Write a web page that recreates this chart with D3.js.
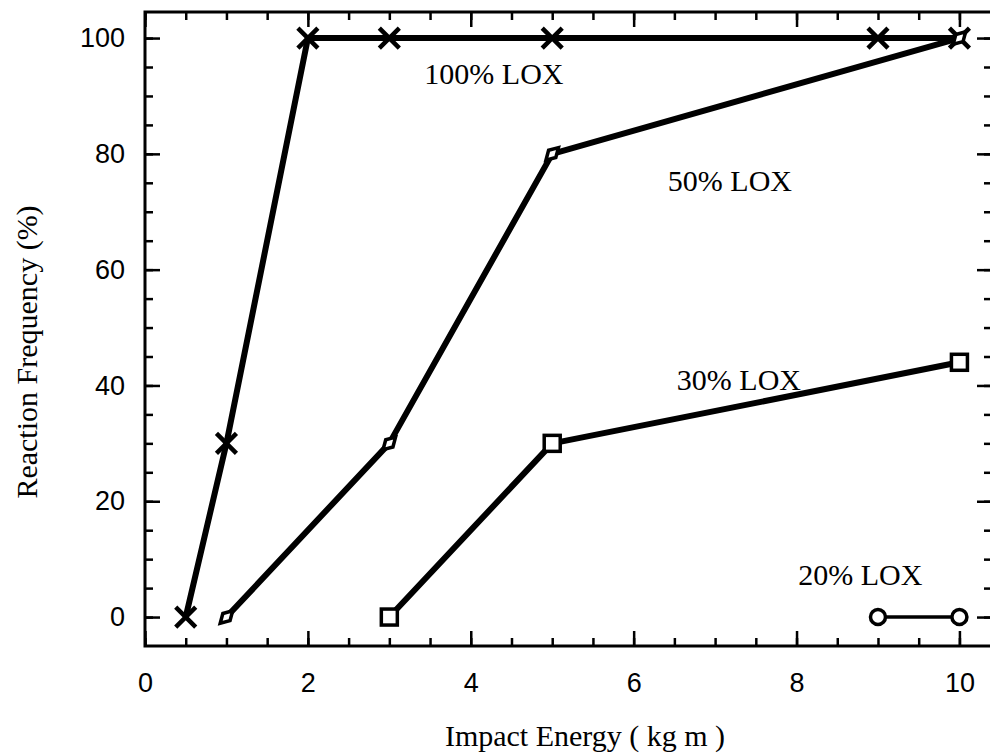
<!DOCTYPE html>
<html>
<head>
<meta charset="utf-8">
<title>Reaction Frequency vs Impact Energy</title>
<script src="https://cdn.jsdelivr.net/npm/d3@7"></script>
<style>
  body { margin: 0; background: #fff; }
  .serif { font-family: "Liberation Serif", "Times New Roman", serif; fill: #000; }
</style>
</head>
<body>
<script>
// data
var energy100 = [0.5, 1, 2, 3, 5, 9, 10];
var freq100   = [0, 30, 100, 100, 100, 100, 100];
var energy50  = [1, 3, 5, 10];
var freq50    = [0, 30, 80, 100];
var energy30  = [3, 5, 10];
var freq30    = [0, 30, 44];
var energy20  = [9, 10];
var freq20    = [0, 0];
var seriesNames = ["100% LOX", "50% LOX", "30% LOX", "20% LOX"];
var xTicks = [0, 2, 4, 6, 8, 10];
var yTicks = [0, 20, 40, 60, 80, 100];

var W = 990, H = 755;
var plotL = 145, plotR = 992, plotT = 12, plotB = 646;

var svg = d3.select("body").append("svg")
  .attr("width", W).attr("height", H);

var x = d3.scaleLinear().domain([0, 10.4]).range([plotL, plotR]);
var y = d3.scaleLinear().domain([-5, 104.5]).range([plotB, plotT]);

// minor ticks
var xMinor = d3.range(0, 10.5, 0.5);
var yMinor = d3.range(0, 105, 5);

function styleAxis(g) {
  g.select(".domain").remove();
  g.selectAll(".tick line").attr("stroke", "#000").attr("stroke-width", 2.5);
  g.selectAll(".tick text")
    .attr("font-family", "'Liberation Sans', Arial, sans-serif")
    .attr("font-size", 27).attr("fill", "#000");
}

// bottom
svg.append("g").attr("transform", "translate(0," + plotB + ")")
  .call(d3.axisBottom(x).tickValues(xMinor).tickSize(-8).tickFormat(""))
  .call(styleAxis);
svg.append("g").attr("transform", "translate(0," + plotB + ")")
  .call(d3.axisBottom(x).tickValues(xTicks).tickSize(-15).tickPadding(27).tickFormat(d3.format("d")))
  .call(styleAxis);
// top
svg.append("g").attr("transform", "translate(0," + plotT + ")")
  .call(d3.axisTop(x).tickValues(xMinor).tickSize(-8).tickFormat(""))
  .call(styleAxis);
svg.append("g").attr("transform", "translate(0," + plotT + ")")
  .call(d3.axisTop(x).tickValues(xTicks).tickSize(-15).tickFormat(""))
  .call(styleAxis);
// left
svg.append("g").attr("transform", "translate(" + plotL + ",0)")
  .call(d3.axisLeft(y).tickValues(yMinor).tickSize(-8).tickFormat(""))
  .call(styleAxis);
svg.append("g").attr("transform", "translate(" + plotL + ",0)")
  .call(d3.axisLeft(y).tickValues(yTicks).tickSize(-15).tickPadding(20).tickFormat(d3.format("d")))
  .call(styleAxis);
// right
svg.append("g").attr("transform", "translate(" + plotR + ",0)")
  .call(d3.axisRight(y).tickValues(yMinor).tickSize(-8).tickFormat(""))
  .call(styleAxis);
svg.append("g").attr("transform", "translate(" + plotR + ",0)")
  .call(d3.axisRight(y).tickValues(yTicks).tickSize(-15).tickFormat(""))
  .call(styleAxis);

// frame
svg.append("rect")
  .attr("x", plotL).attr("y", plotT)
  .attr("width", plotR - plotL).attr("height", plotB - plotT)
  .attr("fill", "none").attr("stroke", "#000").attr("stroke-width", 3);

var line = d3.line().x(function(d){ return x(d[0]); }).y(function(d){ return y(d[1]); });

var series = [
  { pts: d3.zip(energy100, freq100), width: 6, marker: "x" },
  { pts: d3.zip(energy50, freq50), width: 6, marker: "diamond" },
  { pts: d3.zip(energy30, freq30), width: 6, marker: "square" },
  { pts: d3.zip(energy20, freq20), width: 3.5, marker: "circle" }
];

series.forEach(function(s) {
  svg.append("path").datum(s.pts)
    .attr("d", line)
    .attr("fill", "none").attr("stroke", "#000")
    .attr("stroke-width", s.width).attr("stroke-linejoin", "round");
});

series.forEach(function(s) {
  var g = svg.append("g");
  s.pts.forEach(function(p) {
    var cx = x(p[0]), cy = y(p[1]);
    if (s.marker === "x") {
      g.append("path")
        .attr("d", "M" + (cx - 10) + "," + (cy - 10) + "L" + (cx + 10) + "," + (cy + 10) +
                   "M" + (cx + 10) + "," + (cy - 10) + "L" + (cx - 10) + "," + (cy + 10))
        .attr("stroke", "#000").attr("stroke-width", 4.5);
    } else if (s.marker === "diamond") {
      g.append("path")
        .attr("d", d3.symbol().type(d3.symbolDiamond).size(90)())
        .attr("transform", "translate(" + cx + "," + cy + ") rotate(45)")
        .attr("fill", "#fff").attr("stroke", "#000").attr("stroke-width", 3.5);
    } else if (s.marker === "square") {
      g.append("rect")
        .attr("x", cx - 8).attr("y", cy - 8).attr("width", 16).attr("height", 16)
        .attr("fill", "#fff").attr("stroke", "#000").attr("stroke-width", 3.5);
    } else {
      g.append("circle")
        .attr("cx", cx).attr("cy", cy).attr("r", 7.5)
        .attr("fill", "#fff").attr("stroke", "#000").attr("stroke-width", 3.5);
    }
  });
});

// series labels (annotation positions in data units)
var labelAt = [[3.43, 92], [6.42, 73.5], [6.53, 39.3], [8.02, 5.5]];
svg.selectAll("text.lbl")
  .data(seriesNames)
  .enter().append("text")
  .attr("class", "lbl serif")
  .attr("x", function(d, i){ return x(labelAt[i][0]); })
  .attr("y", function(d, i){ return y(labelAt[i][1]); })
  .attr("font-size", "30px")
  .text(function(d){ return d; });

// axis titles
svg.append("text").attr("class", "serif")
  .attr("x", 585).attr("y", 746)
  .attr("text-anchor", "middle").attr("font-size", "30px")
  .text("Impact Energy ( kg m )");

svg.append("text").attr("class", "serif")
  .attr("transform", "translate(37,352) rotate(-90)")
  .attr("text-anchor", "middle").attr("font-size", "30px")
  .text("Reaction Frequency (%)");
</script>
</body>
</html>
